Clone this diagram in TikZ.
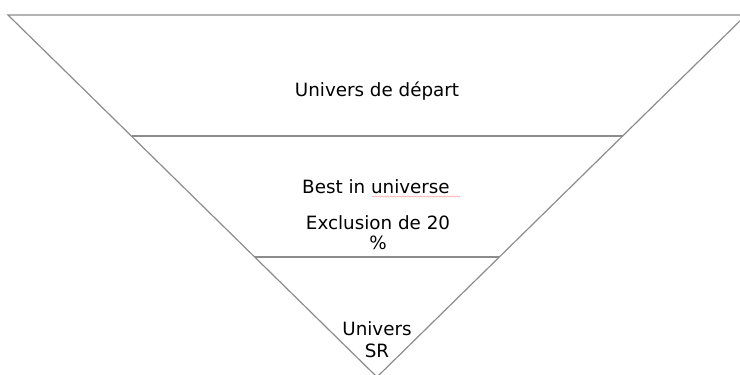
\documentclass[tikz,border=0pt]{standalone}
\usepackage{fontspec}
\setmainfont{DejaVu Sans}
\usetikzlibrary{decorations.pathmorphing}
\begin{document}
\begin{tikzpicture}[x=1pt,y=-1pt,
  edge/.style={draw=black!45, line width=1.2pt},
  lbl/.style={font=\fontsize{18.3}{22}\selectfont, inner sep=0pt, anchor=base, text=black},
  spell/.style={draw=red!35, line width=0.6pt, decorate, decoration={snake, amplitude=0.6pt, segment length=3pt}}]
\useasboundingbox (0,0) rectangle (740,375);
\begin{scope}
\clip (0,0) rectangle (740,375);
\coordinate (tl) at (8,15);
\coordinate (tr) at (746,15);
\coordinate (ap) at (377,377);
\coordinate (l1) at (131.5,136);
\coordinate (r1) at (622.5,136);
\coordinate (l2) at (255,257);
\coordinate (r2) at (499,257);
\draw[edge] (tl) -- (tr) -- (ap) -- cycle;
\draw[edge] (l1) -- (r1);
\draw[edge] (l2) -- (r2);
\end{scope}
\node[lbl] (t1) at (377,96) {Univers de départ};
\node[lbl] (t2) at (376,193) {Best in universe};
\node[lbl] (t3) at (378,229) {Exclusion de 20};
\node[lbl] (t4) at (378,249) {\%};
\node[lbl] (t5) at (377,335) {Univers};
\node[lbl] (t6) at (377,357) {SR};
\coordinate (s1) at (372,196.5);
\coordinate (s2) at (460,196.5);
\draw[spell] (s1) -- (s2);
\end{tikzpicture}
\end{document}
